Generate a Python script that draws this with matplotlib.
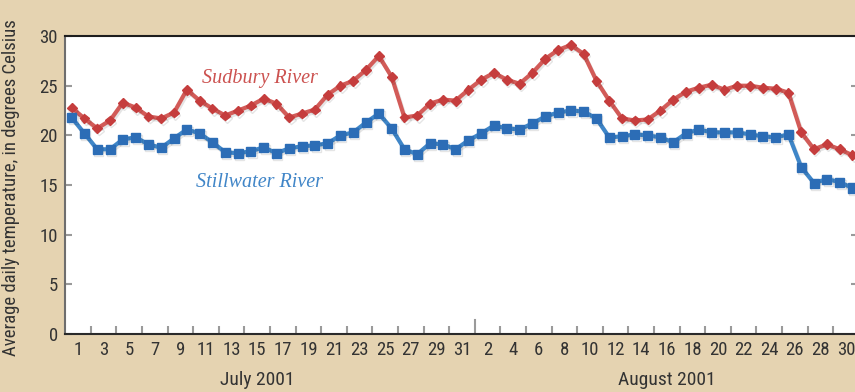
import numpy as np
import matplotlib
matplotlib.use("Agg")
import matplotlib.pyplot as plt
import matplotlib.patheffects as pe
from matplotlib import font_manager

# daily mean water temperature, Jul 1 - Aug 31 2001 (deg C)
sudbury = [22.8, 21.7, 20.7, 21.5, 23.3, 22.8, 21.9, 21.7, 22.3, 24.6,
           23.5, 22.7, 22.0, 22.5, 23.0, 23.7, 23.2, 21.8, 22.2, 22.6,
           24.1, 25.0, 25.5, 26.6, 28.0, 25.9, 21.8, 22.0, 23.2, 23.6,
           23.5, 24.6, 25.6, 26.3, 25.6, 25.2, 26.3, 27.7, 28.6, 29.1,
           28.2, 25.5, 23.5, 21.7, 21.5, 21.6, 22.5, 23.6, 24.4, 24.8,
           25.1, 24.6, 25.0, 25.0, 24.8, 24.7, 24.3, 20.3, 18.6, 19.1,
           18.6, 18.0]
stillwater = [21.8, 20.2, 18.6, 18.6, 19.6, 19.8, 19.1, 18.75, 19.7, 20.6,
              20.2, 19.3, 18.3, 18.2, 18.4, 18.8, 18.2, 18.7, 18.9, 19.0,
              19.2, 20.0, 20.3, 21.3, 22.2, 20.7, 18.6, 18.1, 19.2, 19.1,
              18.6, 19.5, 20.2, 21.0, 20.7, 20.6, 21.2, 21.9, 22.3, 22.5,
              22.4, 21.7, 19.8, 19.9, 20.1, 20.0, 19.8, 19.3, 20.2, 20.6,
              20.3, 20.3, 20.3, 20.1, 19.9, 19.8, 20.1, 16.8, 15.2, 15.6,
              15.3, 14.7]

july_days = list(range(1, 32))
aug_days = list(range(1, 31))
july_labels = [d for d in july_days if d % 2 == 1]
aug_labels = [d for d in aug_days if d % 2 == 0]


def pick_font(names):
    for name in names:
        try:
            font_manager.findfont(font_manager.FontProperties(family=name),
                                  fallback_to_default=False)
            return name
        except ValueError:
            continue
    return "DejaVu Sans"


narrow = pick_font(["Liberation Sans Narrow", "DejaVu Sans Condensed",
                    "Roboto Condensed", "Roboto"])

bg = "#E5D3B1"
ink = "#333333"
red_line, red_mark = "#D25B58", "#C53D3D"
blue_line, blue_mark = "#3F86C8", "#2C6DB6"

fig = plt.figure(figsize=(8.55, 3.92), dpi=100, facecolor=bg)
ax = fig.add_axes([0.076, 0.148, 0.927, 0.760])
ax.set_facecolor("white")

x = np.arange(len(sudbury))
shadow = [pe.SimpleLineShadow(offset=(1, -1.5), alpha=0.10), pe.Normal()]
ax.plot(x, sudbury, color=red_line, lw=3, marker="D", ms=5,
        mfc=red_mark, mec=red_mark, path_effects=shadow, zorder=3)
ax.plot(x, stillwater, color=blue_line, lw=3, marker="s", ms=6.5,
        mfc=blue_mark, mec=blue_mark, path_effects=shadow, zorder=3)

ax.set_xlim(-0.52, 61.4)
ax.set_ylim(0, 30)

# day labels sit mid-interval; tick marks fall between the labels
pos_jul = {d: d - 1 + 0.5 for d in july_days}
pos_aug = {d: 31 + d - 1 + 0.5 for d in aug_days}
lab_pos = [pos_jul[d] for d in july_labels] + [pos_aug[d] for d in aug_labels]
lab_txt = [str(d) for d in july_labels] + [str(d) for d in aug_labels]
ax.set_xticks(lab_pos)
ax.set_xticklabels(lab_txt, family=narrow, fontsize=13.5, color=ink)
ax.tick_params(axis="x", length=0, pad=5)

short = [pos_jul[d] for d in july_days if d % 2 == 0] + \
        [pos_aug[d] for d in aug_days if d % 2 == 1 and d > 1]
ax.set_xticks(short, minor=True)
ax.tick_params(axis="x", which="minor", direction="in", length=6,
               width=1.5, color="#9a9a9a")
ax.axvline(pos_aug[1], ymin=0, ymax=14 / 298, color="#9a9a9a", lw=1.5)

ax.set_yticks(np.arange(0, 31, 5))
ax.set_yticklabels([str(v) for v in range(0, 31, 5)], family=narrow,
                   fontsize=13.5, color=ink)
ax.tick_params(axis="y", direction="in", length=5, width=1.5,
               color="#9a9a9a", pad=5, right=True)

ax.spines["left"].set_color("#6e6e6e")
ax.spines["left"].set_linewidth(1.5)
ax.spines["bottom"].set_color("#2a2a2a")
ax.spines["bottom"].set_linewidth(1.5)
ax.spines["top"].set_color("#1e1e1e")
ax.spines["top"].set_linewidth(1.5)
ax.spines["right"].set_color("#6e6e6e")

ax.set_ylabel("Average daily temperature, in degrees Celsius",
              family=narrow, fontsize=13.5, color=ink)
ax.yaxis.set_label_coords(-0.057, 0.49)

ax.text(14.7, 25.75, "Sudbury River", family="Liberation Serif",
        style="italic", fontsize=14.5, color="#CC5250", ha="center", va="center")
ax.text(14.7, 15.3, "Stillwater River", family="Liberation Serif",
        style="italic", fontsize=14.5, color="#4186C8", ha="center", va="center")

fig.text(257 / 855, 12 / 392, "July 2001", family=narrow, fontsize=14,
         color=ink, ha="center", va="center")
fig.text(667 / 855, 12 / 392, "August 2001", family=narrow, fontsize=14,
         color=ink, ha="center", va="center")

fig.savefig("out.png", dpi=100, facecolor=bg)
